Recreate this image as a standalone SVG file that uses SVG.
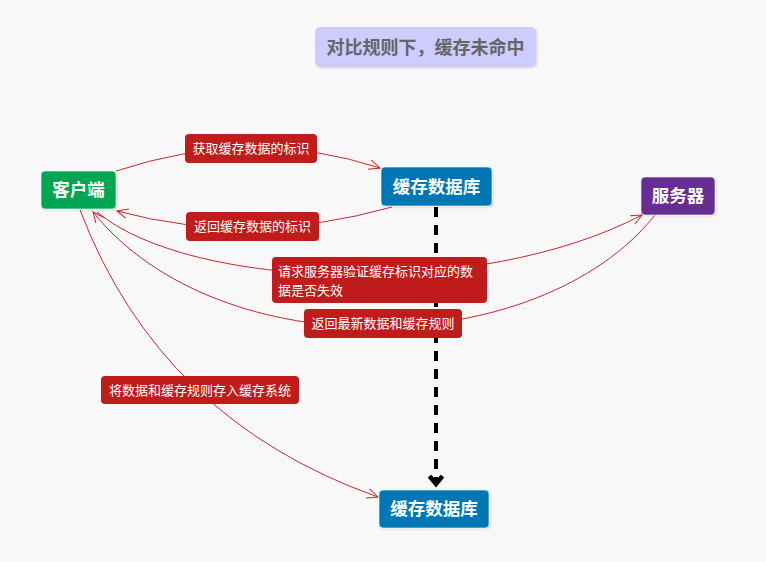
<svg xmlns="http://www.w3.org/2000/svg" width="766" height="562" viewBox="0 0 766 562">
<style>
.bg{fill:#f8f8f8}
.node{stroke:#ffffff;stroke-opacity:0.6;stroke-width:1}
.ntext{font-family:"Noto Sans CJK SC","Microsoft YaHei",sans-serif;font-weight:bold;font-size:17.5px;fill:#ffffff;text-anchor:middle}
.title{font-family:"Noto Sans CJK SC","Microsoft YaHei",sans-serif;font-weight:bold;font-size:18px;fill:#666666;text-anchor:middle}
.lbl{fill:#c01c1c}
.ltext{font-family:"Noto Sans CJK SC","Microsoft YaHei",sans-serif;font-size:13px;fill:#ffffff;text-anchor:middle}
.ltextl{font-family:"Noto Sans CJK SC","Microsoft YaHei",sans-serif;font-size:13px;fill:#ffffff}
.conn{fill:none;stroke:#c8282a;stroke-width:1}
.dash{fill:none;stroke:#000000;stroke-width:4;stroke-dasharray:10 8}
</style>
<defs>
<marker id="arr" markerUnits="userSpaceOnUse" markerWidth="14" markerHeight="12" refX="11" refY="5" orient="auto" viewBox="0 0 14 12">
<path d="M0,0 L11,5 L0,10" fill="none" stroke="#c8282a" stroke-width="1"/>
</marker>
<marker id="darr" markerUnits="userSpaceOnUse" markerWidth="16" markerHeight="18" refX="9" refY="8" orient="auto" viewBox="0 0 16 18">
<path d="M1,1.5 L9,8 L1,14.5" fill="none" stroke="#000000" stroke-width="4.5" stroke-linejoin="miter"/>
</marker>
<filter id="sh" x="-10%" y="-10%" width="130%" height="140%">
<feDropShadow dx="1" dy="1" stdDeviation="1" flood-color="#000000" flood-opacity="0.15"/>
</filter>
</defs>
<rect class="bg" x="0" y="0" width="766" height="562"/>

<g id="title">
<rect x="315" y="27" width="221" height="40" rx="5" fill="#ccccff" filter="url(#sh)"/>
<text class="title" x="425.5" y="53.5">对比规则下，缓存未命中</text>
</g>

<g id="connectors">
<path class="conn" d="M116,171 Q252,126 380,168" marker-end="url(#arr)"/>
<path class="conn" d="M392,207 Q250,247 117,211" marker-end="url(#arr)"/>
<path class="conn" d="M97,212 C190,290 480,300 642,215" marker-end="url(#arr)"/>
<path class="conn" d="M655,215 C540,360 220,370 93,212" marker-end="url(#arr)"/>
<path class="conn" d="M80,210 Q160,420 378,497" marker-end="url(#arr)"/>
<path class="dash" d="M436,207 L436,484" marker-end="url(#darr)"/>
</g>

<g id="label-get">
<rect class="lbl" x="185" y="134" width="132" height="29" rx="4"/>
<text class="ltext" x="251" y="153">获取缓存数据的标识</text>
</g>
<g id="label-return">
<rect class="lbl" x="186" y="212" width="133" height="29" rx="4"/>
<text class="ltext" x="252.5" y="231">返回缓存数据的标识</text>
</g>
<g id="label-request">
<rect class="lbl" x="272" y="257" width="215" height="46" rx="4"/>
<text class="ltextl" x="278" y="276">请求服务器验证缓存标识对应的数</text>
<text class="ltextl" x="278" y="295">据是否失效</text>
</g>
<g id="label-newest">
<rect class="lbl" x="304" y="309" width="158" height="29" rx="4"/>
<text class="ltext" x="383" y="328">返回最新数据和缓存规则</text>
</g>
<g id="label-store">
<rect class="lbl" x="101" y="376" width="198" height="28" rx="4"/>
<text class="ltext" x="200" y="394.5">将数据和缓存规则存入缓存系统</text>
</g>

<g id="client">
<rect class="node" x="41" y="171" width="75" height="38" rx="4" fill="#00a651" filter="url(#sh)"/>
<text class="ntext" x="78.5" y="196">客户端</text>
</g>
<g id="cache-db-1">
<rect class="node" x="381" y="167" width="111" height="39" rx="4" fill="#0077b5" filter="url(#sh)"/>
<text class="ntext" x="436.5" y="192.5">缓存数据库</text>
</g>
<g id="server">
<rect class="node" x="641" y="177" width="74" height="38" rx="4" fill="#662d91" filter="url(#sh)"/>
<text class="ntext" x="678" y="202">服务器</text>
</g>
<g id="cache-db-2">
<rect class="node" x="379" y="490" width="110" height="38" rx="4" fill="#0077b5" filter="url(#sh)"/>
<text class="ntext" x="434" y="515">缓存数据库</text>
</g>
</svg>
